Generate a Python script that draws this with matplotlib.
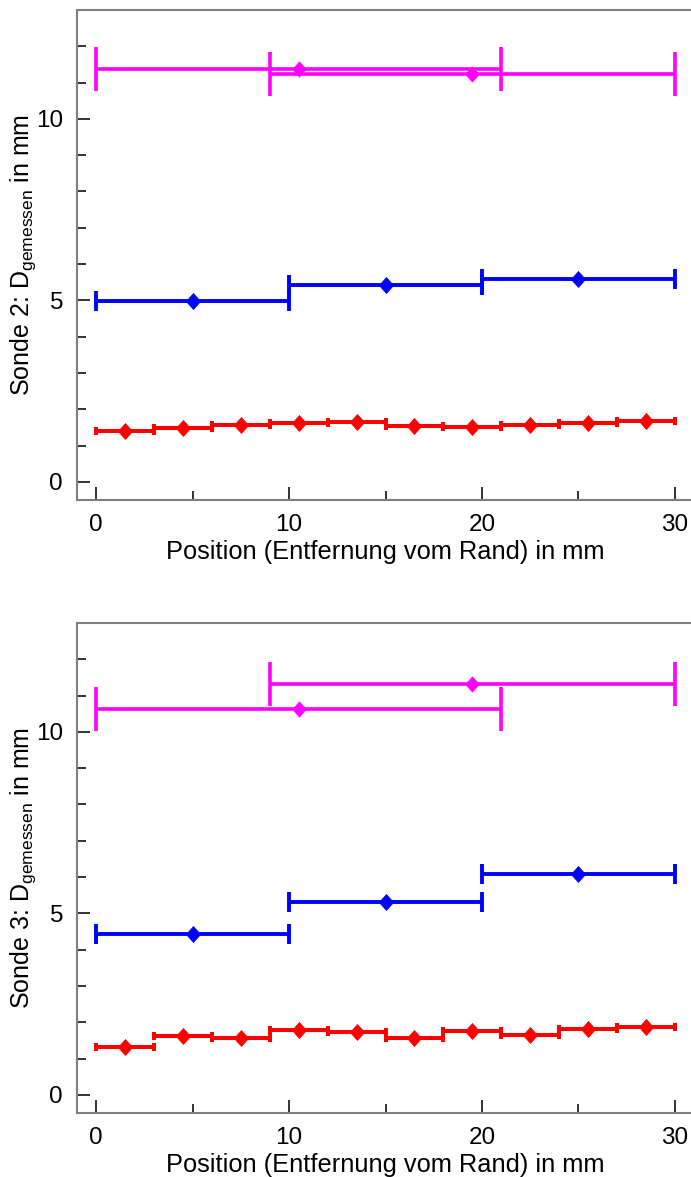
import numpy as np
import matplotlib
matplotlib.use('Agg')
import matplotlib.pyplot as plt
from matplotlib.ticker import MultipleLocator

plt.rcParams['font.family'] = ['Liberation Sans', 'DejaVu Sans']
plt.rcParams['mathtext.fontset'] = 'custom'
plt.rcParams['mathtext.rm'] = 'Liberation Sans'
plt.rcParams['mathtext.it'] = 'Liberation Sans:italic'

# Daten
red_x = [1.5, 4.5, 7.5, 10.5, 13.5, 16.5, 19.5, 22.5, 25.5, 28.5]
red_xerr = [1.5] * 10
blue_x = [5, 15, 25]
blue_xerr = [5, 5, 5]
mag_x = [10.5, 19.5]
mag_xerr = [10.5, 10.5]

s2_red = [1.41, 1.49, 1.57, 1.61, 1.64, 1.55, 1.52, 1.57, 1.62, 1.68]
s2_blue = [4.97, 5.41, 5.60]
s2_mag = [11.37, 11.25]

s3_red = [1.33, 1.61, 1.58, 1.78, 1.74, 1.57, 1.77, 1.64, 1.82, 1.88]
s3_blue = [4.44, 5.30, 6.09]
s3_mag = [10.62, 11.31]

sonden = [('Sonde 2', s2_red, s2_blue, s2_mag),
          ('Sonde 3', s3_red, s3_blue, s3_mag)]

# etwas hoeher als breit, wie im Original
raute = [(0, 1), (0.9, 0), (0, -1), (-0.9, 0), (0, 1)]

W, H = 691, 1177
fig = plt.figure(figsize=(W / 100, H / 100), dpi=100)

ax_bottoms = [677, 64]
for (name, red, blue, mag), yb in zip(sonden, ax_bottoms):
    ax = fig.add_axes([77 / W, yb / H, 617 / W, 490 / H])

    ax.errorbar(mag_x, mag, xerr=mag_xerr, fmt='none', ecolor='#ff00ff',
                elinewidth=2.6, capsize=15.5, capthick=2.6)
    ax.plot(mag_x, mag, ls='none', marker=raute, color='#ff00ff', ms=11, mew=0.5)
    ax.errorbar(blue_x, blue, xerr=blue_xerr, fmt='none', ecolor='#0000ff',
                elinewidth=2.8, capsize=7, capthick=2.8)
    ax.plot(blue_x, blue, ls='none', marker=raute, color='#0000ff', ms=11.5, mew=0.5)
    ax.errorbar(red_x, red, xerr=red_xerr, fmt='none', ecolor='#ff0000',
                elinewidth=2.9, capsize=3, capthick=2.9)
    ax.plot(red_x, red, ls='none', marker=raute, color='#ff0000', ms=11.5, mew=0.5)

    ax.set_xlim(-1, 31)
    ax.set_ylim(-0.5, 13)
    ax.xaxis.set_major_locator(MultipleLocator(10))
    ax.xaxis.set_minor_locator(MultipleLocator(5))
    ax.yaxis.set_major_locator(MultipleLocator(5))
    ax.yaxis.set_minor_locator(MultipleLocator(1))
    ax.tick_params(which='both', direction='in', top=False, right=False,
                   width=1.2, color='#111111', labelsize=17.5)
    ax.tick_params(which='major', length=9.5)
    ax.tick_params(which='minor', length=6.5)
    ax.tick_params(axis='x', pad=10)
    ax.tick_params(axis='y', pad=10)

    for side in ['left', 'top', 'bottom']:
        ax.spines[side].set_color('#808080')
        ax.spines[side].set_linewidth(1.5)
    ax.spines['right'].set_visible(False)

    ax.set_xlabel('Position (Entfernung vom Rand) in mm', fontsize=18.3, labelpad=3)
    ax.set_ylabel(name + r': D$_{\mathrm{gemessen}}$ in mm', fontsize=18)
    ax.yaxis.set_label_coords(-0.064, 0.5)

fig.savefig('out.png', dpi=100)
